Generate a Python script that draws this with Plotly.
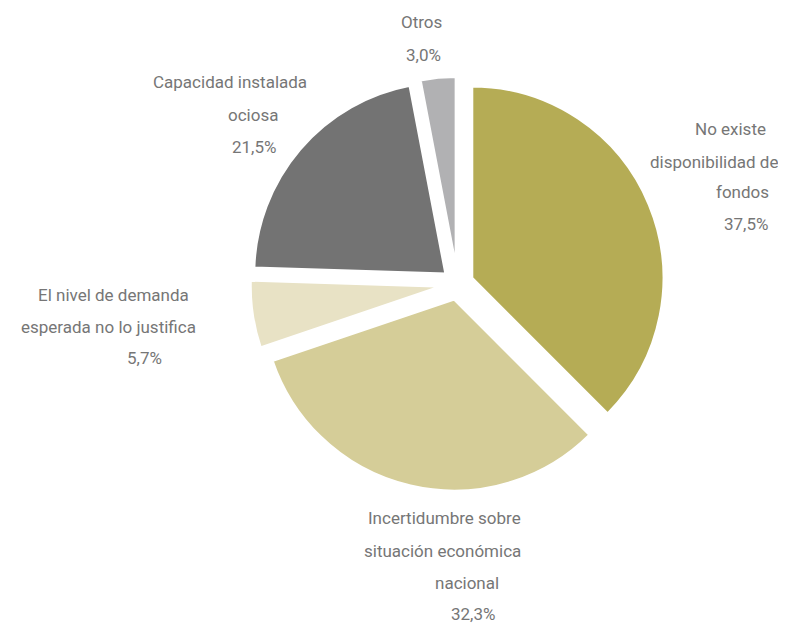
import plotly.graph_objects as go

# Data
labels = [
    "No existe disponibilidad de fondos",
    "Incertidumbre sobre situación económica nacional",
    "El nivel de demanda esperada no lo justifica",
    "Capacidad instalada ociosa",
    "Otros",
]
values = [37.5, 32.3, 5.7, 21.5, 3.0]
pct_text = ["37,5%", "32,3%", "5,7%", "21,5%", "3,0%"]
label_lines = [
    ["No existe", "disponibilidad de", "fondos"],
    ["Incertidumbre sobre", "situación económica", "nacional"],
    ["El nivel de demanda", "esperada no lo justifica"],
    ["Capacidad instalada", "ociosa"],
    ["Otros"],
]
colors = ["#B5AC55", "#D5CD98", "#E8E2C5", "#737373", "#B1B1B3"]

W, H = 786, 625
FONT = "Roboto, sans-serif"
TEXT_COLOR = "#767676"

# per-line label placement (pixel x centre, y of each line)
line_pos = [
    [(722, 121), (706, 154), (734, 184), (738, 216)],
    [(437, 510), (434, 543), (459, 575), (465, 606)],
    [(105, 287), (100, 319), (136, 350)],
    [(222, 74), (245, 107), (246, 139)],
    [(413, 14), (415, 47)],
]

fig = go.Figure(
    go.Pie(
        labels=labels,
        values=values,
        sort=False,
        direction="clockwise",
        rotation=0,
        marker=dict(colors=colors, line=dict(color="white", width=3)),
        pull=[0.08] * len(values),
        textinfo="none",
        hoverinfo="label+percent",
        domain=dict(x=[0.308, 0.836], y=[0.2256, 0.8912]),
    )
)

annotations = []
for lines, pct, pos in zip(label_lines, pct_text, line_pos):
    for txt, (px_, py_) in zip(lines + [pct], pos):
        annotations.append(
            dict(
                text=txt,
                x=px_ / W,
                y=1 - py_ / H,
                xref="paper",
                yref="paper",
                xanchor="center",
                yanchor="middle",
                showarrow=False,
                font=dict(family=FONT, size=17, color=TEXT_COLOR),
            )
        )

fig.update_layout(
    width=W,
    height=H,
    margin=dict(l=0, r=0, t=0, b=0),
    paper_bgcolor="white",
    plot_bgcolor="white",
    showlegend=False,
    annotations=annotations,
)

fig.write_html("out.html")
